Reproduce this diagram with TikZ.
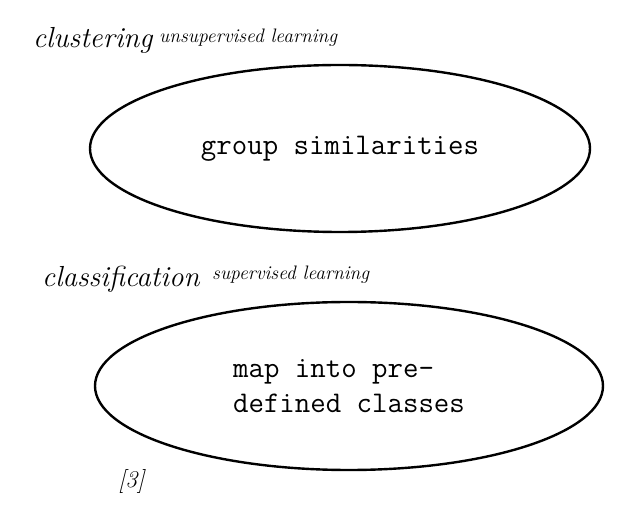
\documentclass[tikz,border=0pt]{standalone}
\usepackage{fontspec}
\usetikzlibrary{shapes.geometric,positioning}

\begin{document}
\begin{tikzpicture}[
  x=1pt, y=-1pt,
  task/.style={ellipse, draw, line width=2.4pt, minimum width=500pt, minimum height=167pt, inner sep=0pt, font=\ttfamily\fontsize{30}{35}\selectfont},
  heading/.style={anchor=base west, inner sep=0pt, font=\itshape\fontsize{29}{32}\selectfont},
  sublabel/.style={anchor=base west, inner sep=0pt, font=\itshape\fontsize{19.5}{22}\selectfont}
]
  \useasboundingbox (0,0) rectangle (619,518);
  \node[heading] (clust) at (33,48) {clustering};
  \node[sublabel] (unsup) at (159,43) {unsupervised learning};
  \node[task] (group) at (340,148.5) {group similarities};
  \node[heading] (classif) at (42,287) {classification};
  \node[sublabel] (sup) at (212,280) {supervised learning};
  \node[task, minimum width=508pt, minimum height=168pt, align=left] (mapinto) at (349,386) {map into pre-\\defined classes};
  \node[heading, font=\itshape\fontsize{24}{26}\selectfont] (ref) at (118,488) {[3]};
\end{tikzpicture}
\end{document}
